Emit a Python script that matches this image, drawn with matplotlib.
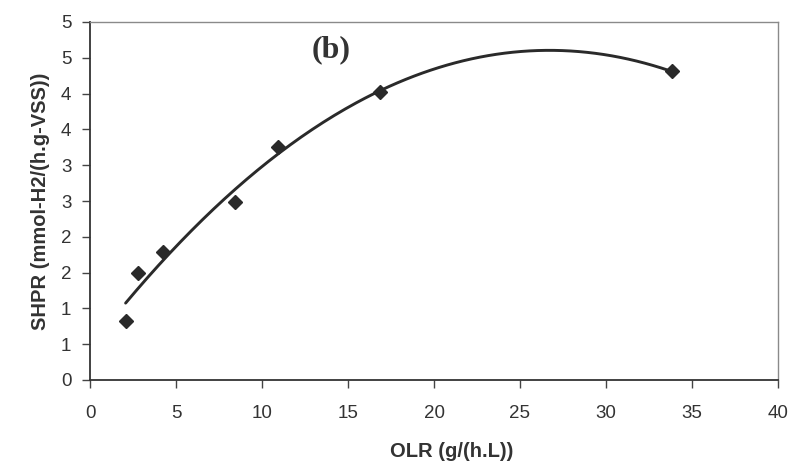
import numpy as np
import matplotlib
matplotlib.use("Agg")
import matplotlib.pyplot as plt
from matplotlib.ticker import FixedLocator, FuncFormatter

# Measured specific hydrogen production rate vs organic loading rate
olr = [2.07, 2.81, 4.26, 8.43, 10.95, 16.86, 33.85]
shpr = [0.83, 1.50, 1.79, 2.49, 3.26, 4.02, 4.31]

x_ticks = [0, 5, 10, 15, 20, 25, 30, 35, 40]
y_ticks = [0, 0.5, 1, 1.5, 2, 2.5, 3, 3.5, 4, 4.5, 5]

# Second-order polynomial trend line through the measurements
coef = np.polyfit(olr, shpr, 2)
xs = np.linspace(min(olr), max(olr), 200)
ys = np.polyval(coef, xs)

fig = plt.figure(figsize=(7.99, 4.66), dpi=100)
ax = fig.add_axes([90 / 799, 1 - 380 / 466, 688 / 799, 358 / 466])

ax.plot(xs, ys, color="#2a2a2a", lw=2.1, solid_capstyle="round", zorder=3)
ax.plot(olr, shpr, linestyle="none", marker="D", markersize=7.5,
        color="#2a2a2a", zorder=4)

ax.set_xlim(0, 40)
ax.set_ylim(0, 5)
ax.xaxis.set_major_locator(FixedLocator(x_ticks))
ax.yaxis.set_major_locator(FixedLocator(y_ticks))
ax.yaxis.set_major_formatter(FuncFormatter(lambda v, p: "%d" % int(np.floor(v + 0.5))))
ax.xaxis.set_major_formatter(FuncFormatter(lambda v, p: "%d" % v))

for lab in ax.get_xticklabels() + ax.get_yticklabels():
    lab.set_fontfamily("Liberation Sans")
    lab.set_fontsize(13.5)
    lab.set_color("#333333")

ax.tick_params(axis="both", direction="out", length=6, width=1.0, color="#444444")
ax.tick_params(axis="x", pad=12)
ax.tick_params(axis="y", pad=7.5)

for side in ("left", "bottom"):
    ax.spines[side].set_color("#333333")
    ax.spines[side].set_linewidth(1.3)
for side in ("top", "right"):
    ax.spines[side].set_color("#8a8a8a")
    ax.spines[side].set_linewidth(1.0)

ax.set_xlabel("OLR (g/(h.L))", fontfamily="Liberation Sans", fontweight="bold",
              fontsize=14.5, color="#333333", labelpad=14.5)
ax.xaxis.label.set_x(0.525)
ax.set_ylabel("SHPR (mmol-H2/(h.g-VSS))", fontfamily="Liberation Sans",
              fontweight="bold", fontsize=14.5, color="#333333", labelpad=8)

ax.text(12.9, 4.61, "(b)", fontfamily="Liberation Serif", fontweight="bold",
        fontsize=23, color="#333333", ha="left", va="center")

fig.savefig("out.png", dpi=100)
